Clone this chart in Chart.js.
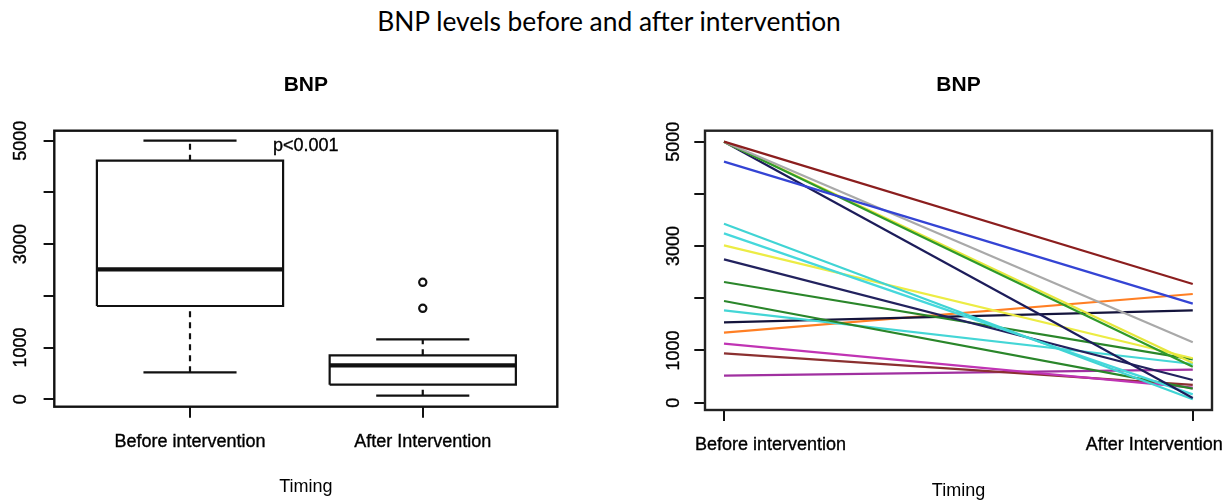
<!DOCTYPE html>
<html>
<head>
<meta charset="utf-8">
<script src="https://cdn.jsdelivr.net/npm/chart.js@4.4.1/dist/chart.umd.min.js"></script>
<style>
  html, body { margin: 0; padding: 0; background: #fff; width: 1231px; height: 500px; overflow: hidden; }
  #mainTitle { position: absolute; left: 609px; top: 9px; transform: translateX(-50%); white-space: nowrap;
               font-family: Lato, "Open Sans", sans-serif; font-size: 24px; line-height: 24px; color: #000; }
  #leftWrap { position: absolute; left: 0; top: 0; width: 615px; height: 500px; }
  #rightWrap { position: absolute; left: 615px; top: 0; width: 616px; height: 500px; }
</style>
</head>
<body>
<div id="mainTitle">BNP levels before and after intervention</div>
<div id="leftWrap"><canvas id="boxChart" width="615" height="500"></canvas></div>
<div id="rightWrap"><canvas id="lineChart" width="616" height="500"></canvas></div>
<script>
// ---------------- DATA ----------------
const categories = ['Before intervention', 'After Intervention'];
const yTicks = [0, 1000, 2000, 3000, 4000, 5000];
const yTickLabels = ['0', '1000', '', '3000', '', '5000'];

// Box plot summary (left panel)
const boxMin    = [522, 70];
const boxQ1     = [1804, 283];
const boxMedian = [2513, 657];
const boxQ3     = [4613, 851];
const boxMax    = [5000, 1160];
const boxOutliers = [[], [1759, 2262]];
const pValueText = 'p<0.001';

// Paired lines (right panel)
const bnpBefore = [5000, 4617, 5000, 5000, 5000, 5000, 3429, 3244, 3014, 2746, 2312, 1948, 1769, 1539, 1341, 1130, 945, 517];
const bnpAfter  = [2274, 1897, 1157,  690,  760,   90,   65,  160,  851,  435,  830,  270,  741, 1770, 2082,  290, 340, 632];
const lineColors = ['#8b1e1e', '#3444d4', '#a9a9a9', '#2f9a2a', '#e6e63c', '#1c1c5a', '#40d4d4', '#46d8dc', '#ecec44',
                    '#22225e', '#2a862a', '#2a862a', '#44d6d6', '#14143c', '#ff7f24', '#c034b4', '#8b3030', '#a030a0'];

// ---------------- STYLE ----------------
const FONT = '"Liberation Sans", Arial, sans-serif';
Chart.defaults.font.family = FONT;
Chart.defaults.color = '#000';
const INK = '#111';
const TEXT = '#000';
const STROKE_W = 0.35;

// fit main title width to reference (~465px)
(function () {
  const el = document.getElementById('mainTitle');
  const c = document.createElement('canvas').getContext('2d');
  c.font = '24px Lato';
  const w = c.measureText(el.textContent).width;
  const size = 24 * 465 / w;
  el.style.fontSize = size.toFixed(2) + 'px';
  el.style.lineHeight = size.toFixed(2) + 'px';
  el.style.top = (22 - 0.529 * size).toFixed(2) + 'px';
})();

const framePlugin = {
  id: 'frame',
  afterDatasetsDraw(chart, args, opts) {
    const { left, top, right, bottom } = chart.chartArea;
    const ctx = chart.ctx;
    ctx.save();
    ctx.strokeStyle = opts.color || INK;
    ctx.lineWidth = opts.width || 2;
    ctx.strokeRect(left, top, right - left, bottom - top);
    ctx.restore();
  }
};

function drawText(ctx, text, x, y) {
  ctx.fillText(text, x, y);
  ctx.lineWidth = STROKE_W;
  ctx.strokeStyle = TEXT;
  ctx.strokeText(text, x, y);
}

const annotationPlugin = {
  id: 'pText',
  afterDraw(chart, args, opts) {
    if (!opts.text) return;
    const ctx = chart.ctx;
    const ys = chart.scales.y;
    ctx.save();
    ctx.font = '18px ' + FONT;
    ctx.fillStyle = TEXT;
    ctx.textAlign = 'center';
    ctx.textBaseline = 'middle';
    drawText(ctx, opts.text, (chart.chartArea.left + chart.chartArea.right) / 2, ys.getPixelForValue(opts.y));
    ctx.restore();
  }
};

const xLabelPlugin = {
  id: 'xLabels',
  afterDraw(chart, args, opts) {
    if (!opts.labels) return;
    const ctx = chart.ctx;
    const xs = chart.scales.x;
    ctx.save();
    ctx.font = '18px ' + FONT;
    ctx.fillStyle = TEXT;
    ctx.textAlign = 'center';
    ctx.textBaseline = 'middle';
    opts.labels.forEach((lab, i) => {
      drawText(ctx, lab, xs.getPixelForValue(i + 1) + opts.shift[i], xs.top + opts.dy);
    });
    ctx.restore();
  }
};

function yScale(min, max, width, pad) {
  return {
    type: 'linear', min: min, max: max,
    afterBuildTicks: s => { s.ticks = yTicks.map(v => ({ value: v })); },
    afterFit: s => { s.width = width; },
    grid: { drawOnChartArea: false, drawTicks: true, tickLength: 10.7, tickColor: INK, tickWidth: 2, color: INK, lineWidth: 2 },
    border: { display: false },
    ticks: {
      autoSkip: false, minRotation: 90, maxRotation: 90, crossAlign: 'center', padding: pad,
      font: { size: 18, family: FONT }, color: TEXT, textStrokeColor: TEXT, textStrokeWidth: STROKE_W,
      callback: (v, i) => yTickLabels[i]
    }
  };
}

function xScale(min, max, height, showLabels, labelPad, titlePad) {
  return {
    type: 'linear', min: min, max: max,
    afterBuildTicks: s => { s.ticks = categories.map((c, i) => ({ value: i + 1 })); },
    afterFit: s => { s.height = height; },
    grid: { drawOnChartArea: false, drawTicks: true, tickLength: 11, tickColor: INK, tickWidth: 2, color: INK, lineWidth: 2 },
    border: { display: false },
    ticks: {
      display: showLabels, autoSkip: false, minRotation: 0, maxRotation: 0, padding: labelPad,
      font: { size: 18, family: FONT }, color: TEXT, textStrokeColor: TEXT, textStrokeWidth: STROKE_W,
      callback: (v) => categories[Math.round(v) - 1]
    },
    title: { display: true, text: 'Timing', font: { size: 18, family: FONT }, color: TEXT, padding: { top: 0, bottom: titlePad } }
  };
}

function panelTitle() {
  return { display: true, text: 'BNP', fullSize: false, color: TEXT,
           font: { size: 21, weight: 'bold', family: FONT }, padding: { top: 72.4, bottom: 33.1 } };
}

// ---------------- LEFT: box plot ----------------
const HALF = 0.4, CAP = 0.2;
const boxDatasets = [];
categories.forEach((c, i) => {
  const x = i + 1;
  const base = { showLine: true, pointRadius: 0, borderColor: INK, borderWidth: 2.2, fill: false, borderCapStyle: 'butt', borderJoinStyle: 'miter' };
  boxDatasets.push(Object.assign({}, base, { borderDash: [6, 5],
    data: [{ x: x, y: boxQ3[i] }, { x: x, y: boxMax[i] }] }));
  boxDatasets.push(Object.assign({}, base, { borderDash: [6, 5],
    data: [{ x: x, y: boxMin[i] }, { x: x, y: boxQ1[i] }] }));
  boxDatasets.push(Object.assign({}, base, {
    data: [{ x: x - CAP, y: boxMax[i] }, { x: x + CAP, y: boxMax[i] }] }));
  boxDatasets.push(Object.assign({}, base, {
    data: [{ x: x - CAP, y: boxMin[i] }, { x: x + CAP, y: boxMin[i] }] }));
  boxDatasets.push(Object.assign({}, base, { backgroundColor: '#fff',
    data: [{ x: x - HALF, y: boxQ1[i] }, { x: x + HALF, y: boxQ1[i] }, { x: x + HALF, y: boxQ3[i] },
           { x: x - HALF, y: boxQ3[i] }, { x: x - HALF, y: boxQ1[i] }] }));
  boxDatasets.push(Object.assign({}, base, { borderWidth: 4.2,
    data: [{ x: x - HALF, y: boxMedian[i] }, { x: x + HALF, y: boxMedian[i] }] }));
  if (boxOutliers[i].length) {
    boxDatasets.push({ showLine: false, pointRadius: 3.6, pointBorderWidth: 2.2, pointStyle: 'circle',
      pointBorderColor: INK, pointBackgroundColor: '#fff',
      data: boxOutliers[i].map(v => ({ x: x, y: v })) });
  }
});

new Chart(document.getElementById('boxChart'), {
  type: 'scatter',
  data: { datasets: boxDatasets },
  options: {
    responsive: false, animation: false, events: [],
    layout: { padding: { left: 0, right: 57.7, top: 0, bottom: 0 } },
    scales: { x: xScale(0.417, 2.578, 93.3, true, 13.2, 2.2), y: yScale(-143, 5193, 54.3, 2.1) },
    plugins: { legend: { display: false }, tooltip: { enabled: false }, title: panelTitle(),
               frame: { color: INK, width: 2.4 }, pText: { text: pValueText, y: 4890 } }
  },
  plugins: [framePlugin, annotationPlugin]
});

// ---------------- RIGHT: paired lines ----------------
const lineDatasets = bnpBefore.map((b, i) => ({
  showLine: true, pointRadius: 0, borderWidth: 2.2, borderColor: lineColors[i], fill: false,
  data: [{ x: 1, y: b }, { x: 2, y: bnpAfter[i] }]
}));

new Chart(document.getElementById('lineChart'), {
  type: 'scatter',
  data: { datasets: lineDatasets },
  options: {
    responsive: false, animation: false, events: [],
    layout: { padding: { left: 0, right: 19, top: 0, bottom: 0 } },
    scales: { x: xScale(0.9595, 2.041, 90, false, 14, -1.8), y: yScale(-140, 5210, 90, 0.3) },
    plugins: { legend: { display: false }, tooltip: { enabled: false }, title: panelTitle(),
               frame: { color: '#222', width: 2.4 },
               xLabels: { labels: categories, shift: [46.5, -38.5], dy: 35.5 } }
  },
  plugins: [framePlugin, xLabelPlugin]
});
</script>
</body>
</html>
